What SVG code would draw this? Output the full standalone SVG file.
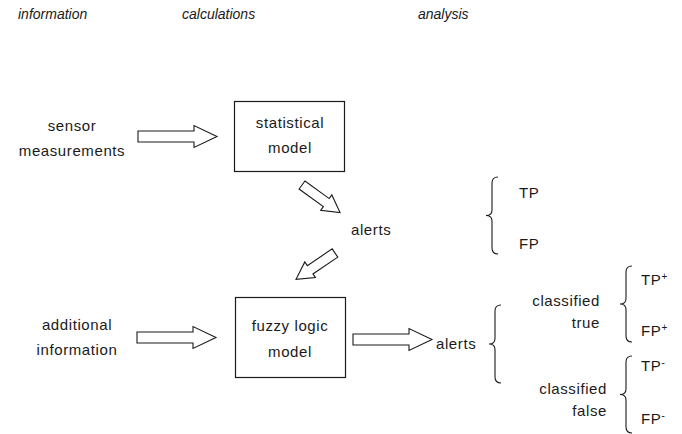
<svg xmlns="http://www.w3.org/2000/svg" width="682" height="434" viewBox="0 0 682 434">
<style>
text{font-family:"Liberation Sans",Arial,sans-serif;fill:#1a1a1a;}
.h{font-size:14px;font-style:italic;}
.t{font-size:15px;letter-spacing:0.6px;}
.c{text-anchor:middle;}
.e{text-anchor:end;}
.box{fill:#fff;stroke:#1a1a1a;stroke-width:1.2;}
.arr{fill:#fff;stroke:#1a1a1a;stroke-width:1.1;stroke-linejoin:miter;}
.br{fill:none;stroke:#1a1a1a;stroke-width:1.1;}
.sup{font-size:10px;}
</style>
<defs>
<polygon id="ha" points="0,-5.5 56,-5.5 56,-11 79,0 56,11 56,5.5 0,5.5"/>
<polygon id="da" points="0,-5 30,-5 30,-9.5 47,0 30,9.5 30,5 0,5"/>
</defs>
<g id="headers">
<text class="h" x="18" y="19">information</text>
<text class="h" x="182" y="19">calculations</text>
<text class="h" x="418" y="19">analysis</text>
</g>
<g id="sensor-measurements">
<text class="t c" x="72" y="131">sensor</text>
<text class="t c" x="72" y="156">measurements</text>
</g>
<g id="statistical-model">
<rect class="box" x="234.5" y="101.5" width="110" height="70"/>
<text class="t c" x="290" y="128">statistical</text>
<text class="t c" x="290" y="153">model</text>
</g>
<g id="alerts-1">
<text class="t" x="351" y="235">alerts</text>
</g>
<g id="tp-fp">
<path class="br" d="M498,177 Q492,177 492,183 L492,210 Q492,215.5 486,215.5 Q492,215.5 492,221 L492,248 Q492,254 498,254"/>
<text class="t" x="519" y="198">TP</text>
<text class="t" x="519" y="249">FP</text>
</g>
<g id="additional-information">
<text class="t c" x="77" y="330">additional</text>
<text class="t c" x="77" y="355">information</text>
</g>
<g id="fuzzy-logic-model">
<rect class="box" x="235.5" y="297.5" width="110" height="80"/>
<text class="t c" x="290" y="331">fuzzy logic</text>
<text class="t c" x="290" y="357">model</text>
</g>
<g id="alerts-2">
<text class="t" x="436" y="349">alerts</text>
<path class="br" d="M501,305 Q495,305 495,311 L495,338.5 Q495,344 489,344 Q495,344 495,349.5 L495,377 Q495,383 501,383"/>
</g>
<g id="classified-true">
<text class="t e" x="600" y="306">classified</text>
<text class="t e" x="600" y="328">true</text>
<path class="br" d="M632,266 Q626,266 626,272 L626,298.5 Q626,304 620,304 Q626,304 626,309.5 L626,336 Q626,342 632,342"/>
<text class="t" x="641" y="285">TP<tspan class="sup" dy="-5">+</tspan></text>
<text class="t" x="641" y="336"><tspan dy="0">FP</tspan><tspan class="sup" dy="-5">+</tspan></text>
</g>
<g id="classified-false">
<text class="t e" x="607" y="394">classified</text>
<text class="t e" x="607" y="416">false</text>
<path class="br" d="M632,356 Q626,356 626,362 L626,389 Q626,394.5 620,394.5 Q626,394.5 626,400 L626,427 Q626,433 632,433"/>
<text class="t" x="641" y="371">TP<tspan class="sup" dy="-5">-</tspan></text>
<text class="t" x="641" y="424">FP<tspan class="sup" dy="-5">-</tspan></text>
</g>
<g id="connectors">
<use href="#ha" class="arr" transform="translate(138,136.5)"/>
<use href="#ha" class="arr" transform="translate(137,337.5)"/>
<use href="#ha" class="arr" transform="translate(353,339.5)"/>
<use href="#da" class="arr" transform="translate(302,185) rotate(36)"/>
<use href="#da" class="arr" transform="translate(335,253) rotate(146)"/>
</g>
</svg>
